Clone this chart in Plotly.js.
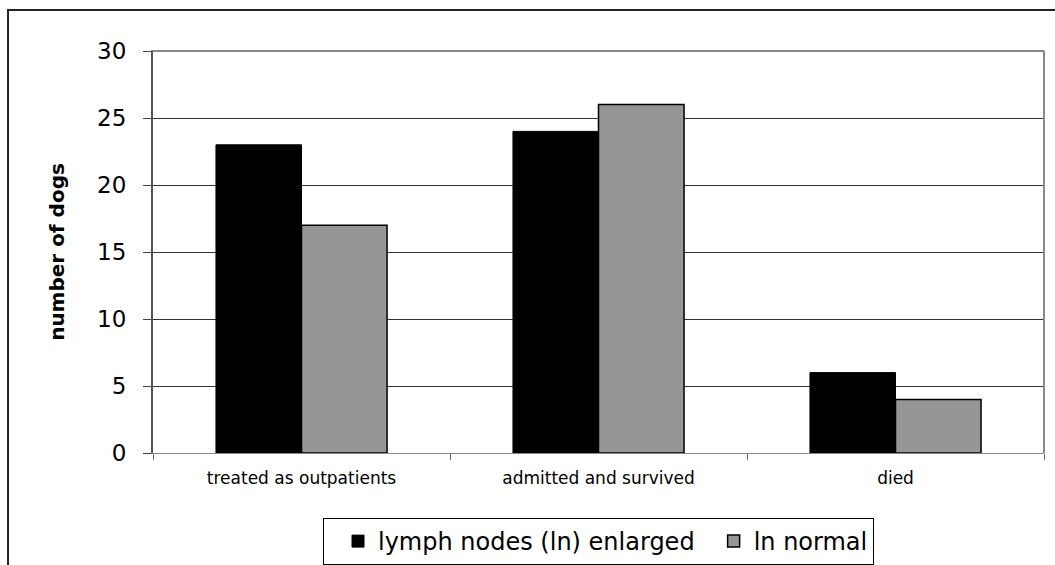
<!DOCTYPE html>
<html>
<head>
<meta charset="utf-8">
<script src="https://cdn.plot.ly/plotly-3.0.1.min.js"></script>
<style>html,body{margin:0;padding:0;background:#fff;}#chart{width:1055px;height:565px;}</style>
</head>
<body>
<div id="chart"></div>
<script>
const categories = ["treated as outpatients", "admitted and survived", "died"];
const enlarged = [23, 24, 6];
const normal = [17, 26, 4];
const seriesNames = ["lymph nodes (ln) enlarged", "ln normal"];
const yTicks = [0, 5, 10, 15, 20, 25, 30];

const font = "DejaVu Sans, Liberation Sans, Arial, sans-serif";
const data = [
  {type: "bar", x: categories, y: enlarged, name: seriesNames[0],
   marker: {color: "#000000", line: {color: "#000000", width: 1}}},
  {type: "bar", x: categories, y: normal, name: seriesNames[1],
   marker: {color: "#969696", line: {color: "#000000", width: 1.5}}}
];
const layout = {
  width: 1055, height: 565,
  margin: {l: 153, r: 11, t: 51, b: 112, autoexpand: false},
  paper_bgcolor: "#fff", plot_bgcolor: "#fff",
  font: {family: font, color: "#000"},
  barmode: "group", bargap: 0.424, bargroupgap: 0,
  showlegend: true,
  legend: {orientation: "h", x: 0.5, xanchor: "center", y: -0.1617, yanchor: "top",
           bordercolor: "#000", borderwidth: 1, font: {size: 24, family: font},
           traceorder: "normal", indentation: 14},
  xaxis: {type: "category", tickson: "boundaries", ticks: "outside", ticklen: 6,
          tickcolor: "#666", tickfont: {size: 17, family: font}, showline: true,
          linecolor: "#888", linewidth: 1, mirror: true, showgrid: false,
          automargin: false, ticklabelstandoff: 10},
  yaxis: {range: [0, 30], tickvals: yTicks, ticks: "outside", ticklen: 8, tickcolor: "#444",
          tickfont: {size: 23, family: font}, showline: true, linecolor: "#555", linewidth: 2,
          mirror: false, showgrid: true, gridcolor: "#333", gridwidth: 1, zeroline: false,
          automargin: false, ticklabelstandoff: 12,
          title: {text: "number of dogs", font: {size: 20, family: font, weight: "bold"}, standoff: 27}},
  shapes: [
    {type: "line", xref: "paper", yref: "paper", x0: 1, x1: 1, y0: 0, y1: 1, line: {color: "#888", width: 2}},
    {type: "line", xref: "paper", yref: "paper", x0: 0, x1: 1, y0: 1, y1: 1, line: {color: "#888", width: 2}},
    {type: "rect", xref: "paper", yref: "paper", x0: -0.1627, x1: 1.2, y0: -0.5, y1: 1.102,
     line: {color: "#222", width: 2}, fillcolor: "rgba(0,0,0,0)", layer: "below"}
  ]
};
Plotly.newPlot("chart", data, layout, {displayModeBar: false, staticPlot: true});
</script>
</body>
</html>
